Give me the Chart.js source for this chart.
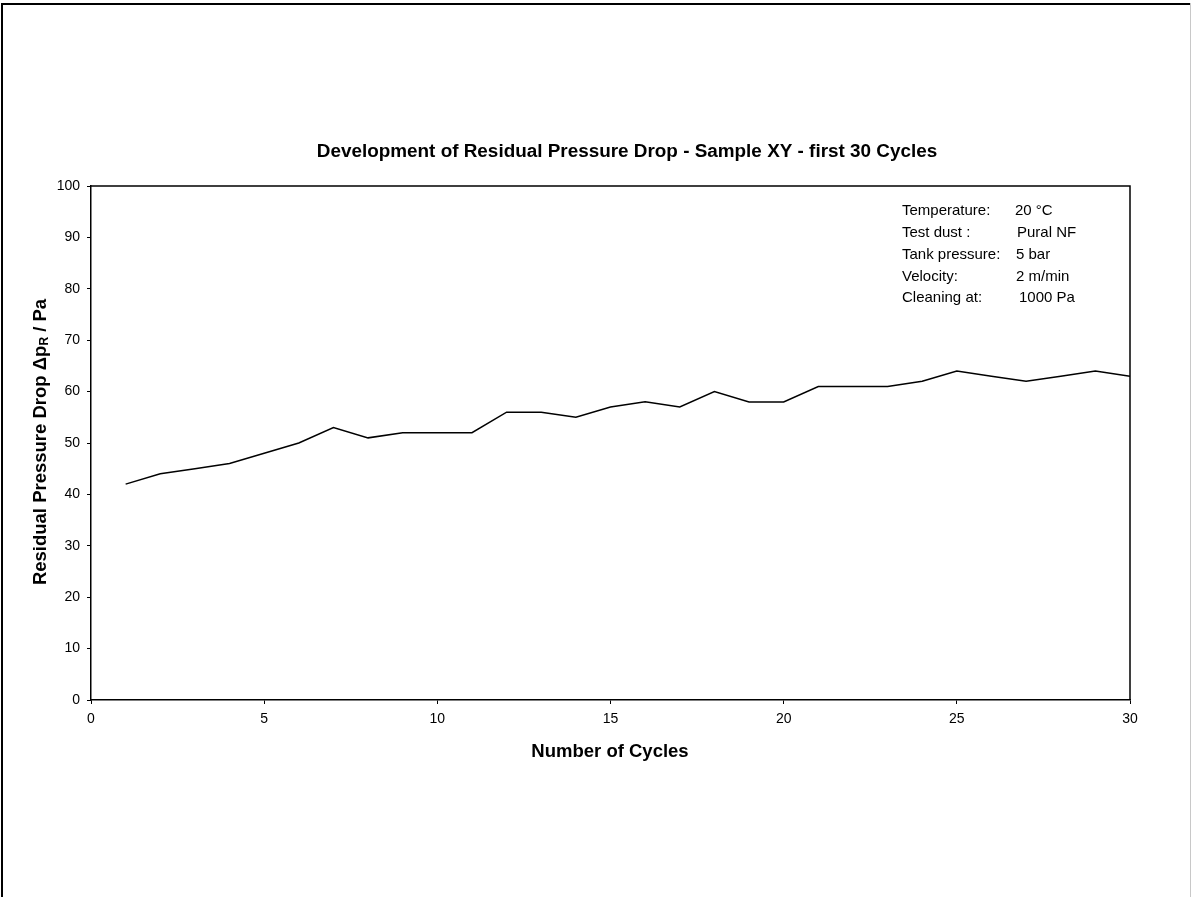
<!DOCTYPE html>
<html>
<head>
<meta charset="utf-8">
<style>
  html, body { margin: 0; padding: 0; background: #fff; }
  canvas { display: block; }
</style>
<script src="https://cdn.jsdelivr.net/npm/chart.js@4.4.0/dist/chart.umd.min.js"></script>
</head>
<body>
<canvas id="c" width="1193" height="897"></canvas>
<script>
const cycles = [1,2,3,4,5,6,7,8,9,10,11,12,13,14,15,16,17,18,19,20,21,22,23,24,25,26,27,28,29,30];
const residualPressureDrop = [42,44,45,46,48,50,53,51,52,52,52,56,56,55,57,58,57,60,58,58,61,61,61,62,64,63,62,63,64,63];
const xTicks = [0,5,10,15,20,25,30];
const yTicks = [0,10,20,30,40,50,60,70,80,90,100];
const chartTitle = 'Development of Residual Pressure Drop - Sample XY - first 30 Cycles';
const xTitle = 'Number of Cycles';
const infoLabels = ['Temperature:', 'Test dust :', 'Tank pressure:', 'Velocity:', 'Cleaning at:'];
const infoValues = ['20 °C', 'Pural NF', '5 bar', '2 m/min', '1000 Pa'];

const FONT = '"Liberation Sans", Arial, sans-serif';

const decor = {
  id: 'decor',
  afterDraw(chart) {
    const ctx = chart.ctx;
    const a = chart.chartArea;
    ctx.save();
    // outer frame
    ctx.fillStyle = '#000';
    ctx.fillRect(1, 3, 1189, 2);
    ctx.fillRect(1, 3, 2, 894);
    ctx.fillStyle = '#c8c8c8';
    ctx.fillRect(1190, 3, 1, 894);
    // plot box top and right
    ctx.strokeStyle = '#000';
    ctx.lineWidth = 1.5;
    ctx.beginPath();
    ctx.moveTo(a.left, a.top);
    ctx.lineTo(a.right, a.top);
    ctx.lineTo(a.right, a.bottom);
    ctx.stroke();
    // title
    ctx.fillStyle = '#000';
    ctx.font = 'bold 18.9px ' + FONT;
    ctx.textAlign = 'center';
    ctx.textBaseline = 'middle';
    ctx.fillText(chartTitle, 627, 152);
    // x title
    ctx.font = 'bold 18.5px ' + FONT;
    ctx.fillText(xTitle, 610, 752);
    // y title with subscript
    ctx.save();
    ctx.translate(41, 442);
    ctx.rotate(-Math.PI / 2);
    const p1 = 'Residual Pressure Drop \u0394p';
    const sub = 'R';
    const p2 = ' / Pa';
    ctx.font = 'bold 18.5px ' + FONT;
    const w1 = ctx.measureText(p1).width;
    const w3 = ctx.measureText(p2).width;
    ctx.font = 'bold 12px ' + FONT;
    const w2 = ctx.measureText(sub).width;
    const total = w1 + w2 + w3;
    let x = -total / 2;
    ctx.textAlign = 'left';
    ctx.font = 'bold 18.5px ' + FONT;
    ctx.fillText(p1, x, 0); x += w1;
    ctx.font = 'bold 12px ' + FONT;
    ctx.fillText(sub, x, 4); x += w2;
    ctx.font = 'bold 18.5px ' + FONT;
    ctx.fillText(p2, x, 0);
    ctx.restore();
    // info block
    ctx.font = '15px ' + FONT;
    ctx.textAlign = 'left';
    ctx.textBaseline = 'middle';
    const valX = [1015, 1017, 1016, 1016, 1019];
    for (let i = 0; i < infoLabels.length; i++) {
      const y = 211 + i * 21.8;
      ctx.fillText(infoLabels[i], 902, y);
      ctx.fillText(infoValues[i], valX[i], y);
    }
    ctx.restore();
  }
};

new Chart(document.getElementById('c'), {
  type: 'line',
  data: {
    datasets: [{
      data: cycles.map((c, i) => ({ x: c, y: residualPressureDrop[i] })),
      borderColor: '#000',
      borderWidth: 1.5,
      pointRadius: 0,
      tension: 0,
      fill: false
    }]
  },
  options: {
    responsive: false,
    animation: false,
    devicePixelRatio: 1,
    layout: { padding: { top: 186, right: 63, left: 0, bottom: 0 } },
    plugins: { legend: { display: false }, title: { display: false }, tooltip: { enabled: false } },
    scales: {
      x: {
        type: 'linear',
        min: 0, max: 30,
        afterBuildTicks(scale) { scale.ticks = xTicks.map(v => ({ value: v })); },
        afterFit(scale) { scale.height = 197; },
        ticks: { color: '#000', font: { family: FONT, size: 14 }, padding: 7, maxRotation: 0 },
        grid: { drawOnChartArea: false, drawTicks: true, tickLength: 4, color: '#000', lineWidth: 1 },
        border: { display: true, color: '#000', width: 1.5 }
      },
      y: {
        min: 0, max: 100,
        afterBuildTicks(scale) { scale.ticks = yTicks.map(v => ({ value: v })); },
        afterFit(scale) { scale.width = 91; },
        ticks: { color: '#000', font: { family: FONT, size: 14 }, padding: 7 },
        grid: { drawOnChartArea: false, drawTicks: true, tickLength: 4, color: '#000', lineWidth: 1 },
        border: { display: true, color: '#000', width: 1.5 }
      }
    }
  },
  plugins: [decor]
});
</script>
</body>
</html>
